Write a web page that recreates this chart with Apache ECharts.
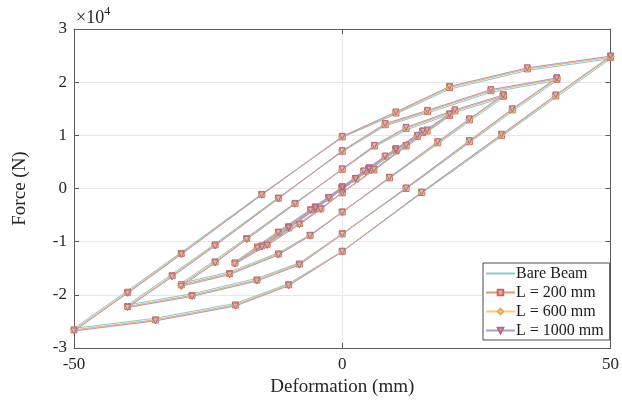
<!DOCTYPE html>
<html>
<head>
<meta charset="utf-8">
<script src="https://cdn.jsdelivr.net/npm/echarts@6/dist/echarts.min.js"></script>
<style>
html,body{margin:0;padding:0;background:#fff;}
#chart{width:622px;height:403px;}
</style>
</head>
<body>
<div id="chart"></div>
<script>
// Deformation (mm); null separates the closed loops of each amplitude
const deformation = [
  5, 2.5, 0, -2.5, -5, -2.5, 0, 2.5, 5, null,
  10, 5, 0, -5, -10, -5, 0, 5, 10, null,
  15, 10, 5, 0, -5, -10, -15, -10, -5, 0, 5, 10, 15, null,
  20, 15.8, 11.9, 5.9, 0, -4, -8, -14, -20, -15.8, -11.9, -5.9, 0, 4, 8, 14, 20, null,
  30, 23.7, 17.8, 8.8, 0, -6, -11.9, -21, -30, -23.7, -17.8, -8.8, 0, 6, 11.9, 21, 30, null,
  40, 31.7, 23.7, 11.9, 0, -8, -15.9, -28, -40, -31.7, -23.7, -11.9, 0, 8, 15.9, 27.7, 40, null,
  50, 39.8, 29.7, 14.8, 0, -10, -19.9, -34.8, -50, -40, -30, -15, 0, 10, 20, 34.5, 50
];
// Force (N)
const forceBare = [
  3500, 1700, 0, -1800, -3500, -1700, 100, 1800, 3500, null,
  7100, 3400, -100, -3600, -7200, -3400, 100, 3600, 7100, null,
  10500, 7000, 3400, -100, -3700, -7300, -10700, -7100, -3400, 200, 3700, 7300, 10500, null,
  13600, 10600, 7800, 3400, -800, -3700, -6500, -10300, -13800, -10800, -8000, -3900, 300, 3100, 5900, 9600, 13600, null,
  17100, 12600, 8400, 1900, -4400, -8700, -12100, -15700, -17800, -13500, -9200, -2700, 3500, 7800, 11000, 14300, 17100, null,
  20300, 14500, 8600, -100, -8500, -14000, -16900, -19800, -21900, -16100, -10400, -1700, 6900, 11800, 14200, 18100, 20300, null,
  24400, 17100, 9800, -900, -11800, -17900, -21600, -24400, -26300, -19200, -12000, -1000, 9600, 14000, 18700, 22200, 24400
];
const forceL200 = [
  3600, 1800, 0, -1800, -3600, -1700, 100, 1900, 3600, null,
  7200, 3500, -100, -3700, -7300, -3500, 100, 3700, 7200, null,
  10600, 7100, 3500, -100, -3800, -7400, -10800, -7200, -3500, 200, 3800, 7400, 10600, null,
  13800, 10800, 8000, 3500, -800, -3800, -6600, -10500, -14000, -11000, -8200, -4000, 300, 3200, 6000, 9800, 13800, null,
  17400, 12900, 8600, 2000, -4400, -8800, -12300, -16000, -18100, -13800, -9400, -2800, 3600, 8000, 11300, 14600, 17400, null,
  20600, 14800, 8800, 0, -8500, -14200, -17200, -20100, -22200, -16400, -10600, -1800, 7000, 12000, 14500, 18400, 20600, null,
  24700, 17400, 10000, -750, -11800, -18100, -21900, -24700, -26600, -19500, -12200, -1100, 9700, 14200, 19000, 22500, 24700
];
const forceL600 = [
  3600, 1800, 0, -1800, -3600, -1800, 100, 1900, 3600, null,
  7300, 3500, -100, -3700, -7400, -3500, 100, 3700, 7300, null,
  10700, 7100, 3500, -100, -3900, -7500, -10900, -7300, -3600, 200, 3800, 7400, 10700, null,
  13900, 10900, 8100, 3600, -800, -3900, -6700, -10600, -14100, -11100, -8300, -4100, 300, 3200, 6100, 9900, 13900, null,
  17500, 13000, 8700, 2100, -4400, -8900, -12400, -16100, -18300, -13900, -9500, -2900, 3600, 8100, 11400, 14700, 17500, null,
  20700, 14900, 8900, 100, -8500, -14300, -17300, -20200, -22300, -16500, -10700, -1900, 7100, 12100, 14600, 18500, 20700, null,
  24800, 17500, 10100, -700, -11800, -18200, -22000, -24800, -26700, -19600, -12300, -1200, 9800, 14300, 19100, 22600, 24800
];
const forceL1000 = [
  3600, 1800, 0, -1800, -3600, -1700, 100, 1900, 3600, null,
  7300, 3600, -100, -3700, -7400, -3600, 100, 3800, 7300, null,
  10800, 7200, 3600, -100, -3900, -7500, -11000, -7300, -3600, 200, 3900, 7500, 10800, null,
  14000, 11000, 8100, 3600, -800, -3900, -6800, -10700, -14200, -11200, -8300, -4100, 300, 3300, 6100, 10000, 14000, null,
  17600, 13100, 8800, 2100, -4500, -8900, -12500, -16200, -18400, -14000, -9600, -2900, 3700, 8100, 11500, 14800, 17600, null,
  20800, 15000, 9000, 100, -8600, -14400, -17400, -20300, -22400, -16600, -10800, -1900, 7100, 12200, 14700, 18600, 20800, null,
  24900, 17600, 10200, -700, -11900, -18300, -22100, -24900, -26800, -19700, -12400, -1200, 9800, 14400, 19200, 22700, 24900
];
const seriesNames = ['Bare Beam', 'L = 200 mm', 'L = 600 mm', 'L = 1000 mm'];
const xTicks = [-50, 0, 50];
const yTicks = [-30000, -20000, -10000, 0, 10000, 20000, 30000];

function pairs(xs, ys) {
  return xs.map((x, i) => (x === null || ys[i] === null) ? null : [x, ys[i]]);
}

const FONT = 'Liberation Serif';
const chart = echarts.init(document.getElementById('chart'), null, {renderer: 'canvas'});
const axisLineStyle = {color: '#5a5a5a', width: 1};

const styles = [
  {line: '#86cbc4', symbol: 'circle', fill: '#86cbc4', border: '#86cbc4'},
  {line: '#e09a72', symbol: 'rect', fill: 'rgba(230,150,150,0.35)', border: '#c8685e'},
  {line: '#f2cc80', symbol: 'diamond', fill: 'rgba(245,210,130,0.35)', border: '#e0ad55'},
  {line: '#b39ac4', symbol: 'path://M0,0 L10,0 L5,9 Z', fill: 'rgba(220,160,170,0.35)', border: '#b66a78'}
];
const forces = [forceBare, forceL200, forceL600, forceL1000];

const series = seriesNames.map((name, k) => ({
  name: name,
  type: 'line',
  data: pairs(deformation, forces[k]),
  connectNulls: false,
  showSymbol: k !== 0,
  symbol: styles[k].symbol,
  symbolSize: k === 2 ? 7 : 6,
  lineStyle: {color: styles[k].line, width: 1},
  itemStyle: {color: styles[k].fill, borderColor: styles[k].border, borderWidth: 1},
  emphasis: {disabled: true},
  animation: false,
  z: 2 + k
}));

const legendData = seriesNames.map((name, k) => k === 0
  ? {name: name, itemStyle: {opacity: 0}}
  : {name: name});

chart.setOption({
  backgroundColor: '#fff',
  animation: false,
  grid: {left: 74, right: 9, top: 29, bottom: 55},
  xAxis: [{
    type: 'value', min: -50, max: 50, interval: 50,
    position: 'bottom',
    name: 'Deformation (mm)', nameLocation: 'middle', nameGap: 30,
    nameTextStyle: {fontFamily: FONT, fontSize: 19, color: '#262626'},
    axisLine: {show: true, onZero: false, lineStyle: axisLineStyle},
    axisTick: {show: true, inside: true, length: 5, lineStyle: axisLineStyle},
    axisLabel: {fontFamily: FONT, fontSize: 17, color: '#262626', margin: 8},
    splitLine: {show: true, lineStyle: {color: '#e8e8e8', width: 1}}
  }, {
    type: 'value', min: -50, max: 50, interval: 50, position: 'top',
    axisLine: {show: true, onZero: false, lineStyle: axisLineStyle},
    axisTick: {show: true, inside: true, length: 5, lineStyle: axisLineStyle},
    axisLabel: {show: false}, splitLine: {show: false}
  }],
  yAxis: [{
    type: 'value', min: -30000, max: 30000, interval: 10000,
    position: 'left',
    name: 'Force (N)', nameLocation: 'middle', nameGap: 44, nameRotate: 90,
    nameTextStyle: {fontFamily: FONT, fontSize: 19, color: '#262626'},
    axisLine: {show: true, onZero: false, lineStyle: axisLineStyle},
    axisTick: {show: true, inside: true, length: 5, lineStyle: axisLineStyle},
    axisLabel: {fontFamily: FONT, fontSize: 17, color: '#262626', margin: 7,
      formatter: v => String(v / 10000)},
    splitLine: {show: true, lineStyle: {color: '#e8e8e8', width: 1}}
  }, {
    type: 'value', min: -30000, max: 30000, interval: 10000, position: 'right',
    axisLine: {show: true, onZero: false, lineStyle: axisLineStyle},
    axisTick: {show: true, inside: true, length: 5, lineStyle: axisLineStyle},
    axisLabel: {show: false}, splitLine: {show: false}
  }],
  legend: {
    show: true,
    data: legendData,
    orient: 'vertical',
    left: 483, top: 263,
    itemWidth: 29, itemHeight: 7, itemGap: 2,
    padding: [2, 6, 1, 2],
    backgroundColor: '#fff',
    borderColor: '#4a4a4a', borderWidth: 1, borderRadius: 0,
    textStyle: {fontFamily: FONT, fontSize: 16, lineHeight: 17, color: '#1a1a1a', padding: [0, 0, 0, -4]}
  },
  graphic: [{
    type: 'text', left: 76, top: 6,
    style: {
      text: '{a|×10}{b|4}',
      rich: {
        a: {fontFamily: FONT, fontSize: 18, fill: '#262626', verticalAlign: 'bottom'},
        b: {fontFamily: FONT, fontSize: 12, fill: '#262626', verticalAlign: 'top', padding: [0, 0, 9, 0]}
      }
    }
  }],
  series: series
});
</script>
</body>
</html>
